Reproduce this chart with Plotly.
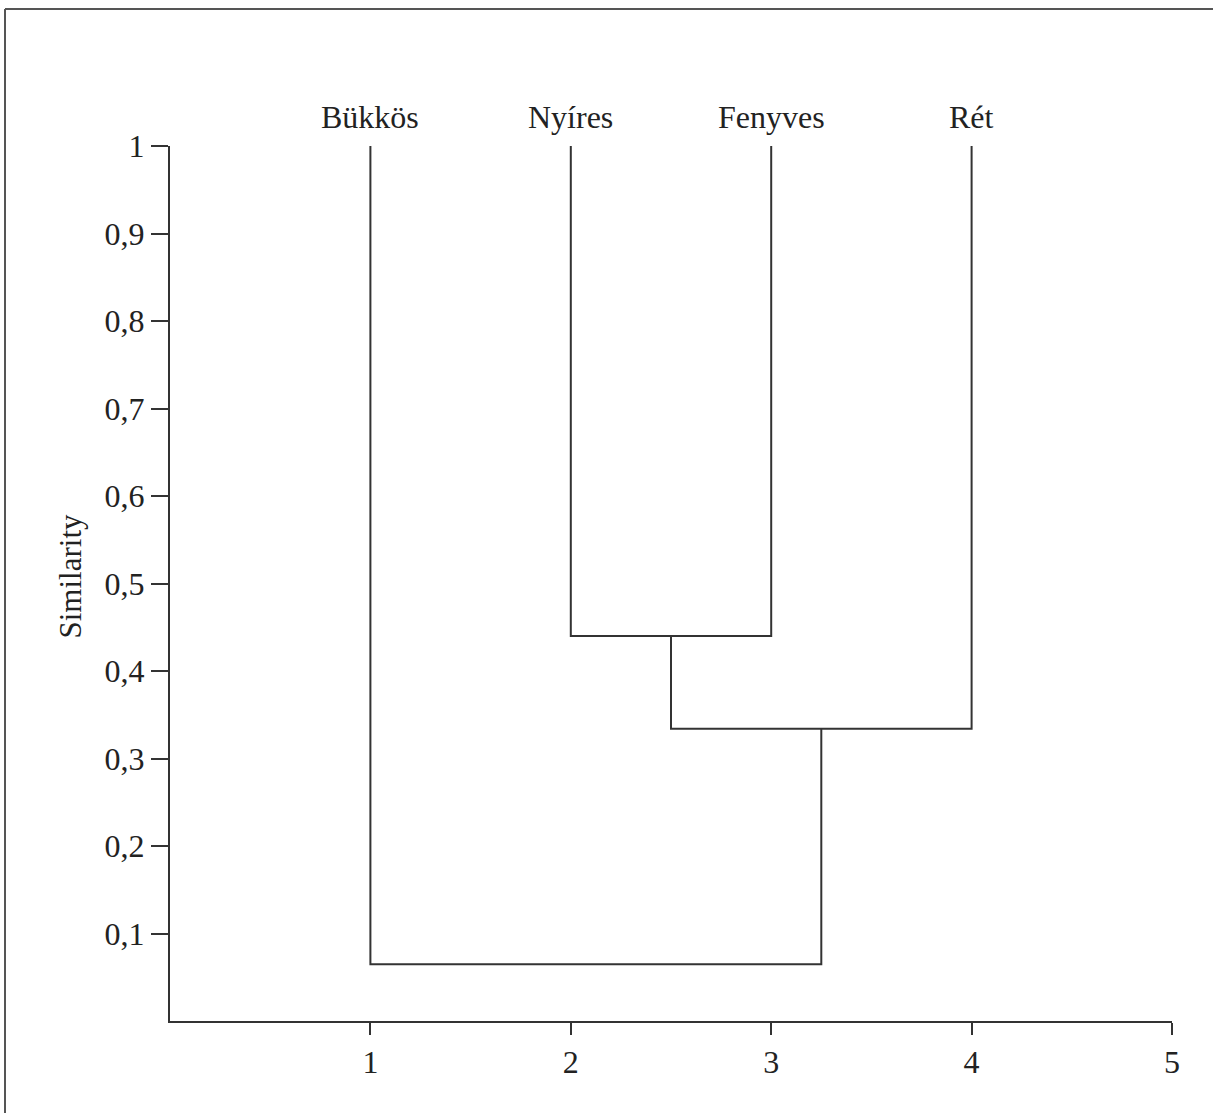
import plotly.graph_objects as go

# ---- data ----
leaf_labels = ["Bükkös", "Nyíres", "Fenyves", "Rét"]
leaf_positions = [1, 2, 3, 4]
leaf_top = 1.0
# merges: (left child, right child, similarity); children index leaves (0..3) or earlier merges (4..)
merge_left = [1, 4, 0]
merge_right = [2, 3, 5]
merge_height = [0.44, 0.334, 0.065]

x_tick_vals = [1, 2, 3, 4, 5]
x_tick_text = ["1", "2", "3", "4", "5"]
y_tick_vals = [0.1, 0.2, 0.3, 0.4, 0.5, 0.6, 0.7, 0.8, 0.9, 1.0]
y_tick_text = ["0,1", "0,2", "0,3", "0,4", "0,5", "0,6", "0,7", "0,8", "0,9", "1"]
y_title = "Similarity"

# ---- build dendrogram ----
node_x = list(leaf_positions)
node_y = [leaf_top] * len(leaf_positions)
xs, ys = [], []
for l, r, h in zip(merge_left, merge_right, merge_height):
    xs += [node_x[l], node_x[l], node_x[r], node_x[r], None]
    ys += [node_y[l], h, h, node_y[r], None]
    node_x.append((node_x[l] + node_x[r]) / 2)
    node_y.append(h)

LINE = "#333333"
TEXT = "#222222"
FONT = "Liberation Serif"

fig = go.Figure()
fig.add_trace(go.Scatter(x=xs, y=ys, mode="lines",
                         line=dict(color=LINE, width=2),
                         hoverinfo="skip", showlegend=False))

for lab, px in zip(leaf_labels, leaf_positions):
    fig.add_annotation(x=px, y=leaf_top, text=lab, showarrow=False,
                       yanchor="bottom", yshift=9,
                       font=dict(family=FONT, size=32, color=TEXT))

W, H = 1213, 1113
L, R, T, B = 170, 41, 146, 92
pw, ph = W - L - R, H - T - B

def px2x(p):
    return (p - L) / pw

def py2y(p):
    return (H - B - p) / ph

fig.add_annotation(x=px2x(50), y=py2y(576), xref="paper", yref="paper",
                   text=y_title, textangle=-90, showarrow=False,
                   font=dict(family=FONT, size=31, color=TEXT))

# image frame (top and left edges)
frame = dict(color="#555555", width=2)
fig.add_shape(type="line", xref="paper", yref="paper",
              x0=px2x(5), x1=px2x(1215), y0=py2y(9), y1=py2y(9), line=frame)
fig.add_shape(type="line", xref="paper", yref="paper",
              x0=px2x(5), x1=px2x(5), y0=py2y(9), y1=py2y(1115), line=frame)

fig.update_layout(
    width=W, height=H,
    margin=dict(l=L, r=R, t=T, b=B),
    paper_bgcolor="white", plot_bgcolor="white",
    font=dict(family=FONT, color=TEXT, size=32),
    xaxis=dict(range=[0, 5], tickvals=x_tick_vals, ticktext=x_tick_text,
               showgrid=False, zeroline=False, showline=True,
               linecolor=LINE, linewidth=2, ticks="outside", ticklen=12,
               tickwidth=2, tickcolor=LINE,
               tickfont=dict(family=FONT, size=32, color=TEXT)),
    yaxis=dict(range=[0, 1], tickvals=y_tick_vals, ticktext=y_tick_text,
               showgrid=False, zeroline=False, showline=True,
               linecolor=LINE, linewidth=2, ticks="outside", ticklen=17,
               tickwidth=2, tickcolor=LINE,
               tickfont=dict(family=FONT, size=32, color=TEXT)),
)

fig.write_html("out.html")
